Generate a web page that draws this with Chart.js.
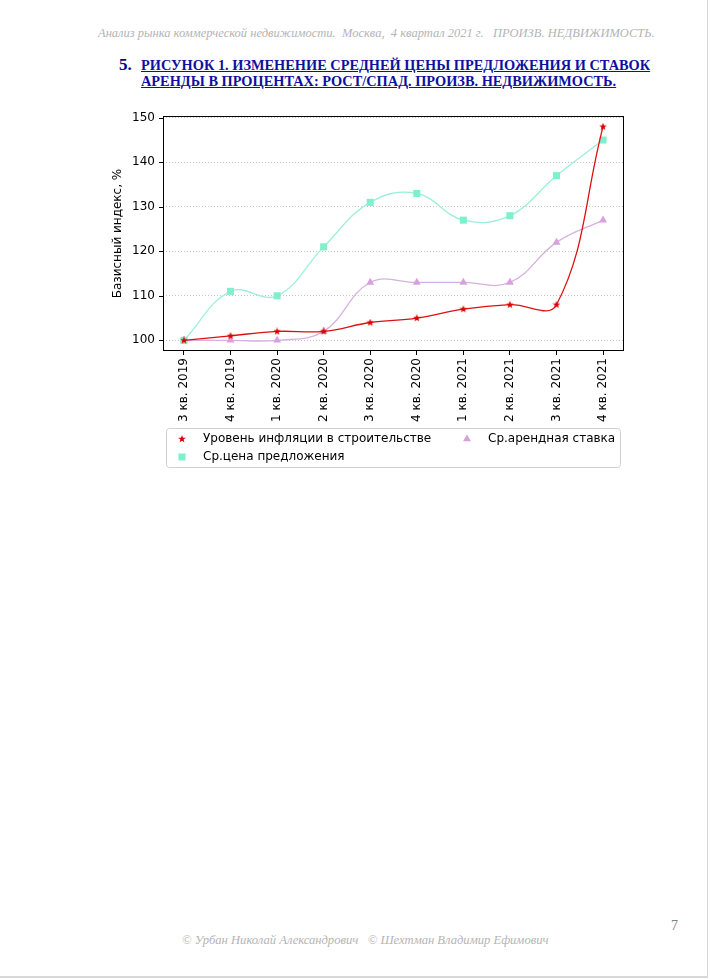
<!DOCTYPE html>
<html>
<head>
<meta charset="utf-8">
<script src="https://cdn.jsdelivr.net/npm/chart.js@4/dist/chart.umd.min.js"></script>
<style>
body { margin: 0; background: #fff; }
#page { position: relative; width: 707px; height: 976px; border-right: 1px solid #d8d8d8; border-bottom: 2px solid #d8d8d8; overflow: hidden; }
.t { position: absolute; white-space: pre; font-family: "Liberation Serif", serif; }
#head { left: 98px; top: 26px; font-size: 12.5px; font-style: italic; color: #b4b4b4; }
#num { left: 119px; top: 55px; font-size: 17px; font-weight: bold; color: #000090; }
.ttl { left: 141px; font-size: 14.35px; font-weight: bold; color: #1010a0; text-decoration: underline; }
#foot { left: 182px; top: 933px; font-size: 12.6px; font-style: italic; color: #b4b4b4; }
#pn { left: 671px; top: 918px; font-size: 14px; color: #808080; }
#wrap { position: absolute; left: 100px; top: 100px; width: 550px; height: 380px; }
</style>
</head>
<body>
<div id="page">
<div class="t" id="head">Анализ рынка коммерческой недвижимости.  Москва,  4 квартал 2021 г.   ПРОИЗВ. НЕДВИЖИМОСТЬ.</div>
<div class="t" id="num">5.</div>
<div class="t ttl" style="top:57px">РИСУНОК 1. ИЗМЕНЕНИЕ СРЕДНЕЙ ЦЕНЫ ПРЕДЛОЖЕНИЯ И СТАВОК</div>
<div class="t ttl" style="top:73px">АРЕНДЫ В ПРОЦЕНТАХ: РОСТ/СПАД. ПРОИЗВ. НЕДВИЖИМОСТЬ.</div>
<div id="wrap"><canvas id="chart" width="550" height="380"></canvas></div>
<div class="t" id="pn">7</div>
<div class="t" id="foot">© Урбан Николай Александрович   © Шехтман Владимир Ефимович</div>
</div>
<script>
var quarters = ['3 кв. 2019', '4 кв. 2019', '1 кв. 2020', '2 кв. 2020', '3 кв. 2020',
                '4 кв. 2020', '1 кв. 2021', '2 кв. 2021', '3 кв. 2021', '4 кв. 2021'];
var inflation = [100, 101, 102, 102, 104, 105, 107, 108, 108, 148];
var offerPrice = [100, 111, 110, 121, 131, 133, 127, 128, 137, 145];
var rentRate = [100, 100, 100, 102, 113, 113, 113, 113, 122, 127];
var yTicks = [100, 110, 120, 130, 140, 150];

var font = 'DejaVu Sans';
var fsize = 12;

function toPoints(arr){
    var pts = [];
    arr.forEach(function(v, i){ pts.push({x: i, y: v}); });
    return pts;
}

// filled star marker, chart.js 'star' is only an asterisk
function makeStar(size, color){
    var c = document.createElement('canvas');
    c.width = size; c.height = size;
    var g = c.getContext('2d');
    var r = size / 2, ri = r * 0.42;
    g.beginPath();
    for (var k = 0; k < 10; k++) {
        var a = -Math.PI / 2 + k * Math.PI / 5;
        var rr = (k % 2 == 0) ? r : ri;
        g.lineTo(r + rr * Math.cos(a), r + rr * Math.sin(a));
    }
    g.closePath();
    g.fillStyle = color;
    g.fill();
    return c;
}
var star = makeStar(8, '#dd0000');

var frame = {
    id: 'frame',
    afterDatasetsDraw: function(chart){
        var ctx = chart.ctx, a = chart.chartArea, ys = chart.scales.y;
        ctx.save();
        ctx.strokeStyle = '#000';
        ctx.lineWidth = 1;
        ctx.strokeRect(a.left + 0.5, a.top + 0.5, a.right - a.left - 1, a.bottom - a.top - 1);
        ctx.beginPath();
        ys.ticks.forEach(function(t){
            var py = Math.round(ys.getPixelForValue(t.value)) + 0.5;
            ctx.moveTo(a.left - 4, py);
            ctx.lineTo(a.left, py);
        });
        ctx.stroke();
        ctx.restore();
    }
};

var legendBox = {
    id: 'legendBox',
    afterDraw: function(chart){
        var ctx = chart.ctx;
        var x0 = 66, y0 = 328, w = 454, h = 39;
        ctx.save();
        ctx.beginPath();
        ctx.roundRect(x0 + 0.5, y0 + 0.5, w, h, 3);
        ctx.fillStyle = 'rgba(255,255,255,0.8)';
        ctx.fill();
        ctx.strokeStyle = '#d0d0d0';
        ctx.stroke();
        var spots = [[82, 339], [82, 357], [367, 339]];
        chart.data.datasets.forEach(function(ds, i){
            var p = spots[i];
            ctx.fillStyle = ds.pointBackgroundColor;
            ctx.strokeStyle = ds.pointBackgroundColor;
            Chart.helpers.drawPoint(ctx, {pointStyle: ds.pointStyle, radius: ds.pointRadius, rotation: 0, borderWidth: 0}, p[0], p[1]);
            ctx.fillStyle = '#000';
            ctx.font = fsize + 'px "' + font + '"';
            ctx.textBaseline = 'middle';
            ctx.fillText(ds.label, p[0] + 21, p[1]);
        });
        ctx.restore();
    }
};

var ctx = document.getElementById('chart').getContext('2d');
var chart = new Chart(ctx, {
    type: 'line',
    data: {
        datasets: [{
            label: 'Уровень инфляции в строительстве',
            data: toPoints(inflation),
            borderColor: '#dd1111',
            borderWidth: 1.3,
            pointStyle: star,
            pointRadius: 4,
            pointBackgroundColor: '#dd0000',
            tension: 0.4
        }, {
            label: 'Ср.цена предложения',
            data: toPoints(offerPrice),
            borderColor: '#9af0d8',
            borderWidth: 1.3,
            pointStyle: 'rect',
            pointRadius: 5,
            pointBorderWidth: 0,
            pointBackgroundColor: '#80f0cc',
            tension: 0.4
        }, {
            label: 'Ср.арендная ставка',
            data: toPoints(rentRate),
            borderColor: '#d8b0e0',
            borderWidth: 1.3,
            pointStyle: 'triangle',
            pointRadius: 4.6,
            pointBorderWidth: 0,
            pointBackgroundColor: '#d8a0dc',
            tension: 0.4
        }]
    },
    options: {
        responsive: false,
        animation: false,
        layout: { padding: { left: 0, top: 16, right: 26, bottom: 49 } },
        plugins: { legend: { display: false }, tooltip: { enabled: false } },
        scales: {
            x: {
                type: 'linear',
                min: -0.45,
                max: 9.45,
                afterBuildTicks: function(s){ s.ticks = quarters.map(function(q, i){ return {value: i}; }); },
                afterFit: function(s){ s.height = 80; },
                grid: { drawOnChartArea: false, drawTicks: true, tickLength: 4, color: '#000' },
                border: { display: false },
                ticks: {
                    autoSkip: false, minRotation: 90, maxRotation: 90, padding: 3,
                    color: '#000', font: { family: font, size: fsize },
                    callback: function(v){ return quarters[v]; }
                }
            },
            y: {
                min: 97.6,
                max: 150.4,
                afterBuildTicks: function(s){ s.ticks = yTicks.map(function(v){ return {value: v}; }); },
                afterFit: function(s){ s.width = 63; },
                grid: { drawTicks: false, color: 'rgba(0,0,0,0.22)' },
                border: { display: false, dash: [1, 2] },
                ticks: { padding: 8, color: '#000', font: { family: font, size: fsize } },
                title: {
                    display: true, text: 'Базисный индекс, %', color: '#000',
                    font: { family: font, size: fsize }, padding: { top: 11, bottom: 0 }
                }
            }
        }
    },
    plugins: [frame, legendBox]
});
</script>
</body>
</html>
